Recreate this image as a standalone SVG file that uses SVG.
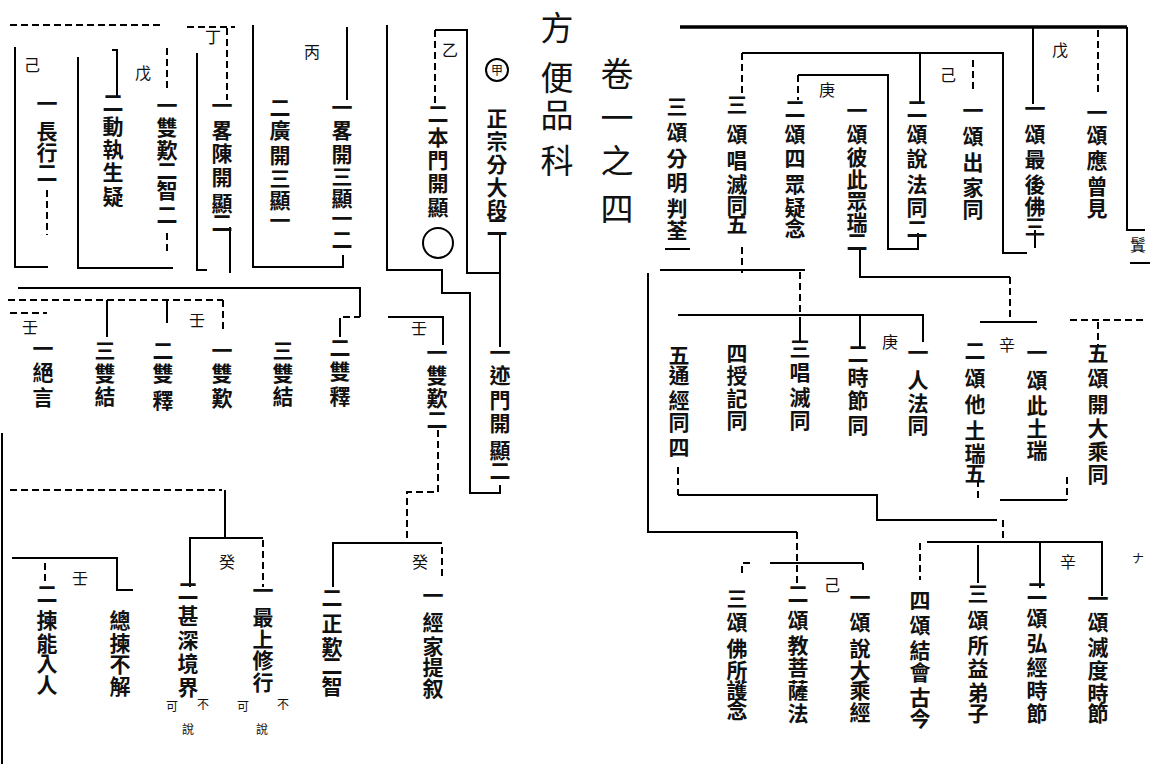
<svg xmlns="http://www.w3.org/2000/svg" width="1161" height="764" viewBox="0 0 1161 764">
<style>
.t{font-family:"Noto Sans CJK TC","Noto Sans CJK JP",sans-serif;font-size:21px;font-weight:bold;text-anchor:middle;fill:#111}
.ttl{font-family:"Noto Sans CJK TC","Noto Sans CJK JP",sans-serif;font-size:33px;text-anchor:middle;fill:#111}
.lb{font-family:"Noto Sans CJK TC","Noto Sans CJK JP",sans-serif;font-size:16px;text-anchor:middle;fill:#111}
.sm{font-family:"Noto Sans CJK TC","Noto Sans CJK JP",sans-serif;font-size:12px;text-anchor:middle;fill:#111}
.ln{stroke:#000;stroke-width:2;fill:none}
.hv{stroke:#000;stroke-width:3.5;fill:none}
.d{stroke:#000;stroke-width:2;fill:none;stroke-dasharray:7 4}
</style>
<rect width="1161" height="764" fill="#fff"/>
<g id="connectors">
<path class="d" d="M10 25H160"/>
<path class="d" d="M187 27H235"/>
<path class="ln" d="M15 47V267H48"/>
<path class="d" d="M47 190V235"/>
<path class="ln" d="M78 57V268H173"/>
<path class="ln" d="M112 50H117V97"/>
<path class="d" d="M167 48V92"/>
<path class="d" d="M167 233V255"/>
<path class="ln" d="M197 53V270H207"/>
<path class="d" d="M227 28V100"/>
<path class="ln" d="M230 227V273"/>
<path class="ln" d="M253 25V267H343V255"/>
<path class="ln" d="M347 27V100"/>
<path class="ln" d="M387 25V270H442V293H470V493H500V485"/>
<path class="d" d="M435 30V108"/>
<path class="ln" d="M435 30H467V273H500"/>
<path class="ln" d="M500 232V347"/>
<path class="ln" d="M18 288H360V317"/>
<path class="d" d="M343 317H360"/>
<path class="ln" d="M340 318V337"/>
<path class="d" d="M8 300H223"/>
<path class="ln" d="M107 300V337"/>
<path class="ln" d="M167 300V323"/>
<path class="d" d="M223 300V332"/>
<path class="d" d="M10 313H47"/>
<path class="ln" d="M388 317H443V345"/>
<path class="d" d="M438 430V492H407V543"/>
<path class="ln" d="M333 587V543H442"/>
<path class="d" d="M442 547V580"/>
<path class="ln" d="M2 433V764"/>
<path class="d" d="M10 490H222"/>
<path class="ln" d="M225 490V538"/>
<path class="ln" d="M190 587V538H263"/>
<path class="d" d="M263 540V587"/>
<path class="ln" d="M12 558H117V590H133"/>
<path class="d" d="M45 563V583"/>
<path class="hv" d="M680 27H1127"/>
<path class="ln" d="M1127 27V230H1145"/>
<path class="ln" d="M1130 263H1150"/>
<path class="d" d="M1098 30V92"/>
<path class="ln" d="M1033 28V104"/>
<path class="ln" d="M1035 230V248"/>
<path class="ln" d="M742 53H1003V253H1027"/>
<path class="d" d="M742 53V97"/>
<path class="ln" d="M920 53V103"/>
<path class="d" d="M973 60V93"/>
<path class="ln" d="M798 75H888V249H918V233"/>
<path class="d" d="M798 75V100"/>
<path class="d" d="M742 247V273"/>
<path class="ln" d="M860 250V277H1010"/>
<path class="d" d="M1010 277V322"/>
<path class="ln" d="M980 322H1037"/>
<path class="d" d="M1070 320H1147"/>
<path class="d" d="M1098 322V347"/>
<path class="ln" d="M805 270H660"/>
<path class="ln" d="M648 273V532H797"/>
<path class="d" d="M800 272V315"/>
<path class="ln" d="M678 315H923V342"/>
<path class="ln" d="M800 317V342"/>
<path class="ln" d="M860 315V347"/>
<path class="d" d="M678 467V495"/>
<path class="ln" d="M678 495H877V520H997"/>
<path class="d" d="M1003 520V540"/>
<path class="d" d="M978 480V498"/>
<path class="ln" d="M1000 500H1067"/>
<path class="d" d="M1067 477V500"/>
<path class="ln" d="M927 542H1103"/>
<path class="d" d="M920 543V580"/>
<path class="ln" d="M978 545V583"/>
<path class="ln" d="M1040 542V588"/>
<path class="ln" d="M1102 542V596"/>
<path class="d" d="M797 532V587"/>
<path class="ln" d="M770 563H863"/>
<path class="d" d="M742 573V563H752"/>
<path class="d" d="M863 563V572"/>
</g>
<g id="title"><text class="ttl" x="557 557 557 557" y="40 90 127 173">方便品科</text></g>
<g id="vol"><text class="ttl" x="617 617 617 617" y="86 130 173 221">卷一之四</text></g>
<g id="n-zhengzong"><circle cx="497" cy="70" r="11" class="ln" stroke-width="1.5"/><text class="sm" x="497" y="75">甲</text><text class="t" x="497 497 497 497 497 497" y="126 149 172 195 217 234">正宗分大段二</text></g>
<g id="n-benmen"><text class="lb" x="450" y="56">乙</text><text class="t" x="438 438 438 438 438" y="121 145 168 191 215">二本門開顯</text><circle cx="438" cy="243" r="15" class="ln"/></g>
<g id="n-lue3"><text class="t" x="342 342 342 342 342 342 342" y="115 138 162 184 206 226 247">一畧開三顯一二</text></g>
<g id="n-guang"><text class="lb" x="312" y="58">丙</text><text class="t" x="280 280 280 280 280 280" y="115 138 163 186 208 228">二廣開三顯一</text></g>
<g id="n-luechen"><text class="lb" x="213" y="43">丁</text><text class="t" x="222 222 222 222 222 222" y="113 138 161 185 211 230">一畧陳開顯二</text></g>
<g id="n-shuangtan"><text class="lb" x="143" y="79">戊</text><text class="t" x="167 167 167 167 167 167" y="113 135 158 178 198 222">一雙歎二智二</text></g>
<g id="n-dongzhi"><text class="t" x="113 113 113 113 113" y="110 134 157 180 204">二動執生疑</text></g>
<g id="n-changxing"><text class="lb" x="32" y="71">己</text><text class="t" x="47 47 47 47" y="111 139 160 180">一長行二</text></g>
<g id="n-r1"><text class="t" x="1097 1097 1097 1097 1097" y="120 143 168 194 216">一頌應曾見</text></g>
<g id="n-r2"><text class="lb" x="1060" y="56">戊</text><text class="t" x="1035 1035 1035 1035 1035 1035" y="116 142 167 192 214 234">一頌最後佛三</text></g>
<g id="n-r3"><text class="t" x="973 973 973 973 973" y="118 144 170 195 217">一頌出家同</text></g>
<g id="n-r4"><text class="lb" x="948" y="81">己</text><text class="t" x="917 917 917 917 917 917" y="116 142 166 192 215 236">二頌說法同二</text></g>
<g id="n-r5"><text class="t" x="857 857 857 857 857 857 857" y="118 142 165 187 209 230 249">一頌彼此眾瑞二</text></g>
<g id="n-r6"><text class="lb" x="827" y="96">庚</text><text class="t" x="795 795 795 795 795 795" y="116 142 166 192 215 236">二頌四眾疑念</text></g>
<g id="n-r7"><text class="t" x="737 737 737 737 737 737" y="112 142 168 192 213 232">三頌唱滅同五</text></g>
<g id="n-r8"><text class="t" x="677 677 677 677 677 677" y="114 140 166 190 216 238">三頌分明判荃</text><path class="ln" d="M665 249H690"/></g>
<g id="n-edge1"><text class="lb" x="1138" y="251">鬒</text></g>
<g id="n-m1"><text class="lb" x="30" y="333">壬</text><text class="t" x="43 43 43" y="356 380 405">一絕言</text></g>
<g id="n-m2"><text class="t" x="105 105 105" y="358 381 404">三雙結</text></g>
<g id="n-m3"><text class="lb" x="197" y="326">壬</text><text class="t" x="163 163 163" y="358 381 408">二雙釋</text></g>
<g id="n-m4"><text class="t" x="222 222 222" y="358 381 406">一雙歎</text></g>
<g id="n-m5"><text class="t" x="283 283 283" y="358 381 404">三雙結</text></g>
<g id="n-m6"><text class="t" x="340 340 340" y="355 379 404">二雙釋</text></g>
<g id="n-m7"><text class="lb" x="419" y="334">壬</text><text class="t" x="437 437 437 437" y="360 383 406 427">一雙歎二</text></g>
<g id="n-m8"><text class="t" x="500 500 500 500 500 500" y="360 383 408 431 458 478">一迹門開顯二</text></g>
<g id="n-m9"><text class="t" x="679 679 679 679 679" y="363 383 408 430 455">五通經同四</text></g>
<g id="n-m10"><text class="t" x="737 737 737 737" y="361 383 406 428">四授記同</text></g>
<g id="n-m11"><text class="t" x="800 800 800 800" y="356 380 405 428">三唱滅同</text></g>
<g id="n-m12"><text class="lb" x="890" y="348">庚</text><text class="t" x="858 858 858 858" y="361 385 408 433">二時節同</text></g>
<g id="n-m13"><text class="t" x="918 918 918 918" y="360 388 411 433">一人法同</text></g>
<g id="n-m14"><text class="lb" x="1007" y="351">辛</text><text class="t" x="975 975 975 975 975 975" y="358 386 412 438 461 481">二頌他土瑞五</text></g>
<g id="n-m15"><text class="t" x="1037 1037 1037 1037 1037" y="360 388 413 436 458">一頌此土瑞</text></g>
<g id="n-m16"><text class="t" x="1098 1098 1098 1098 1098 1098" y="361 386 412 436 459 482">五頌開大乘同</text></g>
<g id="n-b1"><text class="lb" x="80" y="584">壬</text><text class="t" x="47 47 47 47 47" y="601 628 651 671 693">二揀能入人</text></g>
<g id="n-b2"><text class="t" x="120 120 120 120" y="628 651 672 694">總揀不解</text></g>
<g id="n-b3"><text class="lb" x="227" y="568">癸</text><text class="t" x="188 188 188 188 188" y="598 623 648 671 695">二甚深境界</text><text class="sm" x="172 203 188" y="711 709 734">可不說</text></g>
<g id="n-b4"><text class="t" x="263 263 263 263 263" y="598 625 647 668 690">一最上修行</text><text class="sm" x="243 283 262" y="711 709 734">可不說</text></g>
<g id="n-b5"><text class="t" x="332 332 332 332 332" y="605 631 655 673 694">二正歎二智</text></g>
<g id="n-b6"><text class="lb" x="420" y="568">癸</text><text class="t" x="433 433 433 433 433" y="603 630 654 675 696">一經家提叙</text></g>
<g id="n-b7"><text class="t" x="737 737 737 737 737 737" y="606 630 656 678 698 718">三頌佛所護念</text></g>
<g id="n-b8"><text class="t" x="798 798 798 798 798 798" y="601 628 653 675 698 721">二頌教菩薩法</text></g>
<g id="n-b9"><text class="lb" x="832" y="591">己</text><text class="t" x="860 860 860 860 860 860" y="605 630 656 678 698 720">一頌說大乘經</text></g>
<g id="n-b10"><text class="t" x="920 920 920 920 920 920" y="608 633 658 680 705 726">四頌結會古今</text></g>
<g id="n-b11"><text class="t" x="978 978 978 978 978 978" y="601 628 653 676 700 721">三頌所益弟子</text></g>
<g id="n-b12"><text class="lb" x="1068" y="568">辛</text><text class="t" x="1037 1037 1037 1037 1037 1037" y="598 626 651 675 698 721">二頌弘經時節</text></g>
<g id="n-b13"><text class="t" x="1098 1098 1098 1098 1098 1098" y="606 630 655 678 701 721">一頌滅度時節</text></g>
<g id="n-edge2"><text class="sm" x="1138" y="563">ナ</text></g>
</svg>
